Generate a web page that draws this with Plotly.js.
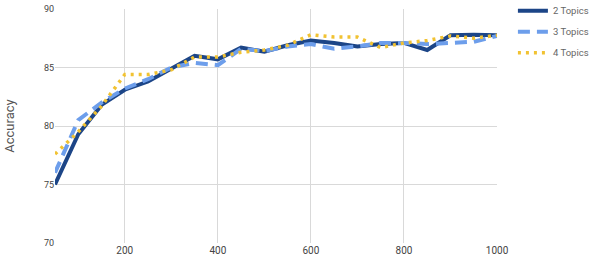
<!DOCTYPE html>
<html>
<head>
<meta charset="utf-8">
<script src="https://cdn.plot.ly/plotly-3.0.1.min.js"></script>
<style>html,body{margin:0;padding:0;background:#fff;}#chart{width:594px;height:264px;}</style>
</head>
<body>
<div id="chart"></div>
<script>
const xValues = [50,100,150,200,250,300,350,400,450,500,550,600,650,700,750,800,850,900,950,1000];
const topics2 = [75.0,79.3,81.8,83.1,83.8,84.9,86.0,85.7,86.7,86.35,86.9,87.3,87.1,86.8,87.0,87.1,86.5,87.75,87.8,87.75];
const topics3 = [76.0,80.5,82.0,83.2,84.0,85.0,85.4,85.2,86.6,86.4,86.8,87.0,86.6,86.8,87.1,87.1,87.0,87.1,87.2,87.7];
const topics4 = [77.6,79.5,81.7,84.4,84.4,84.8,85.9,85.9,86.3,86.5,86.9,87.8,87.6,87.6,86.7,87.1,87.3,87.7,87.5,87.75];
const seriesNames = ['2 Topics','3 Topics','4 Topics'];
const xTicks = [200,400,600,800,1000];
const yTicks = [70,75,80,85,90];

const font = 'Roboto, Arial, sans-serif';
const traces = [
  {x: xValues, y: topics2, name: seriesNames[0], legendgroup: 'a', mode: 'lines',
   line: {color: '#1c4587', width: 4, dash: 'solid'}},
  {x: xValues, y: topics3, name: seriesNames[1], legendgroup: 'b', mode: 'lines',
   line: {color: '#6d9eeb', width: 4, dash: '12px,7px'}},
  {x: xValues, y: topics4, name: seriesNames[2], legendgroup: 'c', mode: 'lines',
   line: {color: '#f1c232', width: 3.5, dash: '3px,5px'}}
];
const layout = {
  width: 594, height: 264,
  margin: {l: 55, r: 97, t: 9, b: 21, autoexpand: false},
  paper_bgcolor: '#fff', plot_bgcolor: '#fff',
  font: {family: font, size: 10, color: '#444'},
  xaxis: {range: [50, 1000], tickvals: xTicks, showgrid: true, gridcolor: '#d9d9d9',
    zeroline: false, showline: false, ticks: '', tickfont: {size: 10, color: '#444'}, automargin: false},
  yaxis: {range: [70, 90], tickvals: yTicks, showgrid: true, gridcolor: '#d9d9d9',
    zeroline: false, showline: false, ticks: '', tickfont: {size: 9, color: '#444'}, automargin: false,
    title: {text: 'Accuracy', font: {size: 13, color: '#555'}, standoff: 26}},
  legend: {x: 1.036, xanchor: 'left', y: 1.055, yanchor: 'top', itemwidth: 30,
    font: {size: 9.5, color: '#666'}, bgcolor: 'rgba(0,0,0,0)', tracegroupgap: 2},
  showlegend: true
};
Plotly.newPlot('chart', traces, layout, {displayModeBar: false, staticPlot: true});
</script>
</body>
</html>
